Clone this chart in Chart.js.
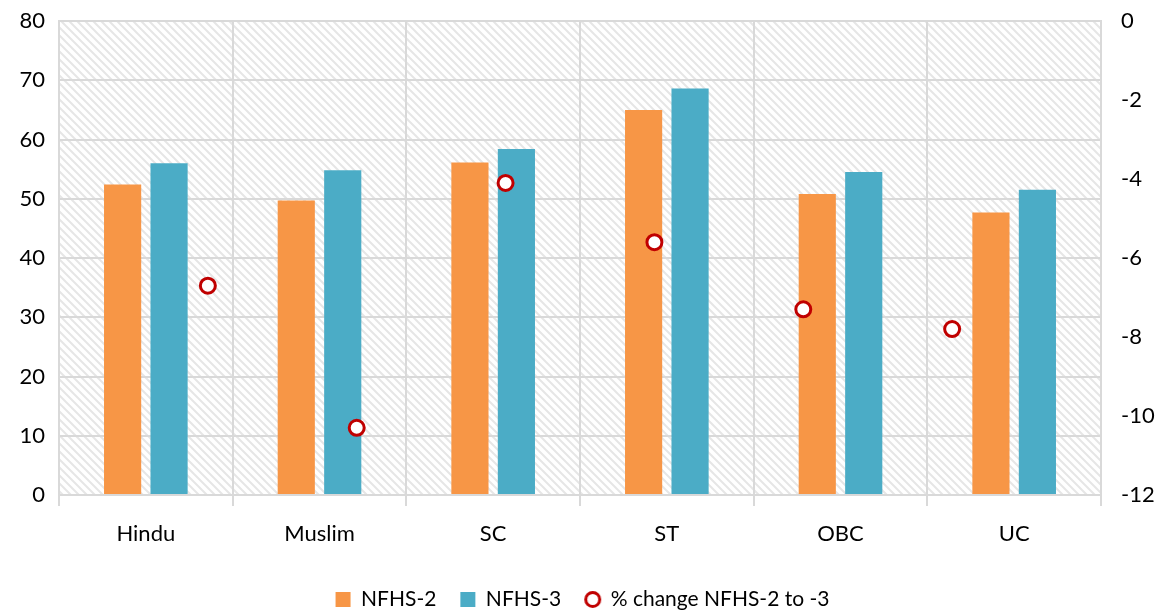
<!DOCTYPE html>
<html>
<head>
<meta charset="utf-8">
<script src="https://cdn.jsdelivr.net/npm/chart.js@4"></script>
<style>
  html, body { margin: 0; padding: 0; background: #fff; }
  #wrap { position: relative; width: 1165px; height: 612px; }
  #wrap canvas { position: absolute; left: 0; top: 0; }
</style>
</head>
<body>
<div id="wrap">
  <canvas id="chart" width="1165" height="612"></canvas>
  <canvas id="points" width="1165" height="612"></canvas>
</div>
<script>
const groups = ["Hindu", "Muslim", "SC", "ST", "OBC", "UC"];
const nfhs2 = [52.4, 49.7, 56.1, 65.0, 50.8, 47.7];
const nfhs3 = [56.0, 54.8, 58.4, 68.6, 54.5, 51.5];
const pctChange = [-6.7, -10.3, -4.1, -5.6, -7.3, -7.8];

const leftTicks = [0, 10, 20, 30, 40, 50, 60, 70, 80];
const rightTicks = [0, -2, -4, -6, -8, -10, -12];
const seriesNames = ["NFHS-2", "NFHS-3", "% change NFHS-2 to -3"];

const FONT = "Lato, 'Open Sans', sans-serif";
const FS = 22;
const gridCol = "#d9d9d9";
const orange = "#F79646";
const teal = "#4BACC6";
const red = "#C00000";

// diagonal hatch for the plot area
function makeHatch() {
    const c = document.createElement("canvas");
    c.width = 8; c.height = 8;
    const g = c.getContext("2d");
    g.fillStyle = "#fff";
    g.fillRect(0, 0, 8, 8);
    g.strokeStyle = "#e6e6e6";
    g.lineWidth = 2;
    g.beginPath();
    g.moveTo(-2, -2); g.lineTo(10, 10);
    g.moveTo(-6, 2); g.lineTo(2, 10);
    g.moveTo(6, -2); g.lineTo(10, 2);
    g.stroke();
    return c;
}

// small ring used as the legend marker of the % change series
function makeRing() {
    const c = document.createElement("canvas");
    c.width = 19; c.height = 19;
    const g = c.getContext("2d");
    g.fillStyle = "#fff";
    g.strokeStyle = red;
    g.lineWidth = 3;
    g.beginPath();
    g.arc(9.5, 9.5, 7, 0, Math.PI * 2);
    g.fill();
    g.stroke();
    return c;
}

const hatchPlugin = {
    id: "hatch",
    beforeDraw(chart) {
        const { ctx, chartArea: a } = chart;
        ctx.save();
        ctx.fillStyle = ctx.createPattern(makeHatch(), "repeat");
        ctx.fillRect(a.left, a.top, a.right - a.left, a.bottom - a.top);
        ctx.restore();
    }
};

const ring = makeRing();

const barChart = new Chart(document.getElementById("chart"), {
    type: "bar",
    data: {
        labels: groups,
        datasets: [
            { label: seriesNames[0], data: nfhs2, backgroundColor: orange },
            { label: seriesNames[1], data: nfhs3, backgroundColor: teal },
        ],
    },
    options: {
        responsive: false,
        animation: false,
        barPercentage: 0.8,
        categoryPercentage: 0.535,
        layout: { padding: { top: 21, right: 0, left: 0, bottom: -8 } },
        plugins: {
            tooltip: { enabled: false },
            legend: {
                position: "bottom",
                labels: {
                    color: "#000",
                    font: { family: FONT, size: 21 },
                    usePointStyle: true,
                    boxWidth: 15,
                    boxHeight: 15,
                    padding: 24,
                    generateLabels() {
                        return seriesNames.map((name, i) => ({
                            text: name,
                            datasetIndex: i,
                            fillStyle: i === 2 ? "#fff" : [orange, teal][i],
                            strokeStyle: i === 2 ? red : [orange, teal][i],
                            lineWidth: 0,
                            pointStyle: i === 2 ? ring : "rect",
                            fontColor: "#000",
                        }));
                    },
                },
            },
        },
        scales: {
            x: {
                offset: true,
                grid: { color: gridCol, lineWidth: 2, tickLength: 11, offset: true },
                border: { color: gridCol, width: 2 },
                ticks: { color: "#000", font: { family: FONT, size: FS }, padding: 15 },
                afterFit(s) { s.height = 70; },
            },
            y: {
                position: "left",
                min: 0,
                max: 80,
                afterBuildTicks(s) { s.ticks = leftTicks.map(v => ({ value: v })); },
                grid: { color: gridCol, lineWidth: 2, drawTicks: false },
                border: { color: gridCol, width: 2 },
                ticks: { color: "#000", font: { family: FONT, size: FS }, padding: 14 },
                afterFit(s) { s.width = 59; s.paddingTop = 0; s.paddingBottom = 0; },
            },
            y2: {
                type: "linear",
                position: "right",
                min: -12,
                max: 0,
                afterBuildTicks(s) { s.ticks = rightTicks.map(v => ({ value: v })); },
                grid: { display: false, drawTicks: false },
                border: { color: gridCol, width: 2 },
                ticks: { color: "#000", font: { family: FONT, size: FS }, padding: 20 },
                afterFit(s) { s.width = 64; s.paddingTop = 0; s.paddingBottom = 0; },
            },
        },
    },
    plugins: [hatchPlugin],
});

// % change points: Excel puts them on a secondary axis, evenly spaced in sevenths
const area = barChart.chartArea;
const pointChart = new Chart(document.getElementById("points"), {
    type: "scatter",
    data: {
        datasets: [{
            label: seriesNames[2],
            data: pctChange.map((v, i) => ({ x: i + 1, y: v })),
            pointRadius: 7.5,
            pointBorderWidth: 3,
            pointBackgroundColor: "#fff",
            pointBorderColor: red,
            clip: false,
        }],
    },
    options: {
        responsive: false,
        animation: false,
        layout: {
            padding: {
                left: area.left,
                top: area.top,
                right: 1165 - area.right,
                bottom: 612 - area.bottom,
            },
        },
        plugins: { legend: { display: false }, tooltip: { enabled: false } },
        scales: {
            x: { type: "linear", min: 0, max: 7, display: false },
            y: { type: "linear", min: -12, max: 0, display: false },
        },
    },
});
</script>
</body>
</html>
